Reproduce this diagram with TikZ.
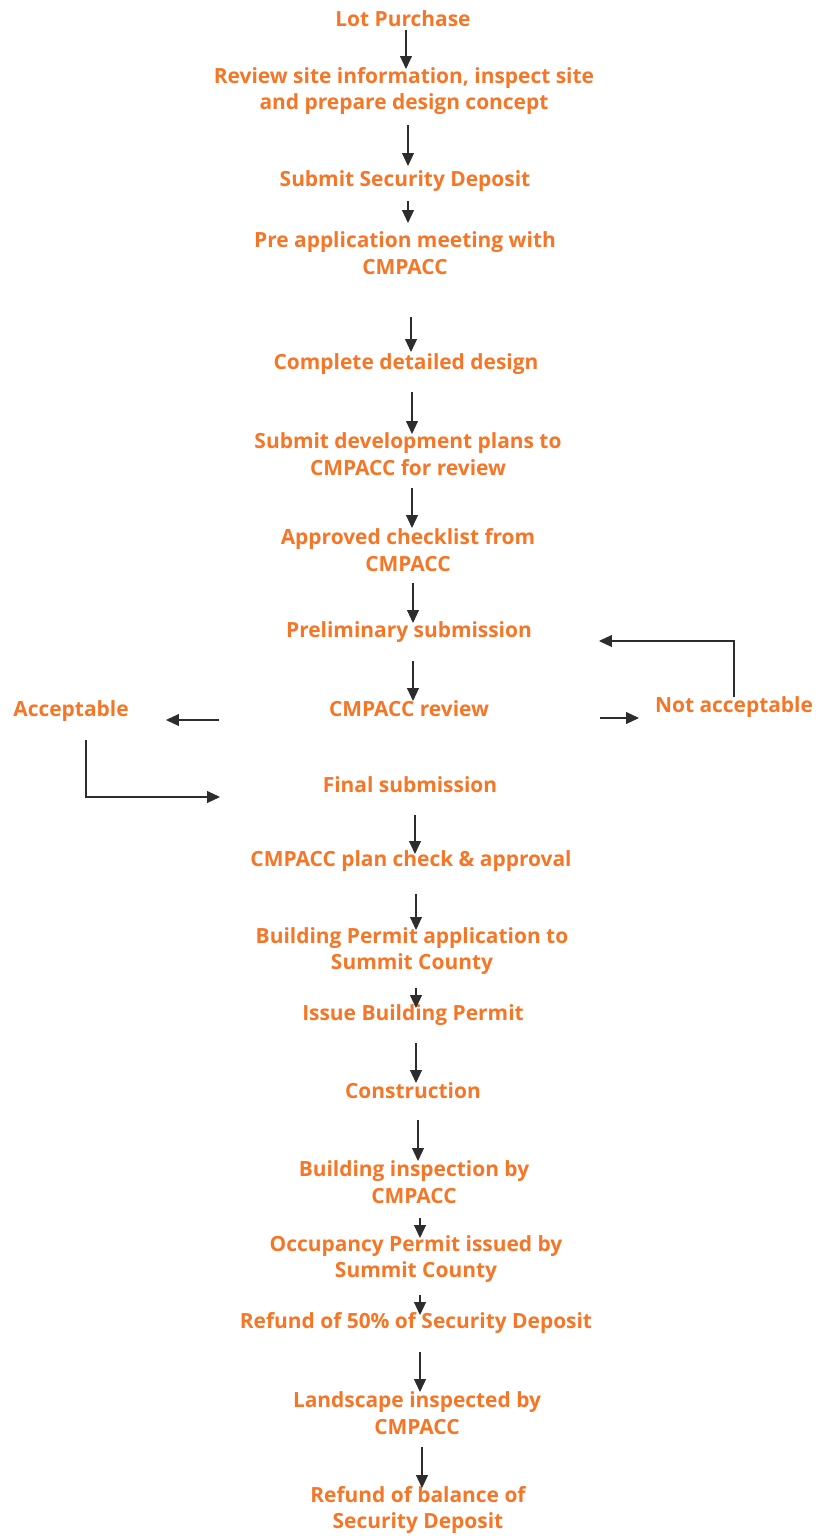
\documentclass[tikz,border=0pt]{standalone}
\usepackage{fontspec}
\setmainfont{Open Sans}
\usetikzlibrary{arrows.meta}
\definecolor{txt}{RGB}{245,118,38}
\definecolor{ln}{RGB}{45,45,45}
\tikzset{
  lbl/.style={text=txt,font=\bfseries\fontsize{21}{26.5}\selectfont,align=center,inner sep=0pt},
  arr/.style={draw=ln,line width=1.1pt,-{Triangle[length=13pt,width=12pt]}}
}
\begin{document}
\begin{tikzpicture}[x=1bp,y=-1bp]
\useasboundingbox (0,0) rectangle (817,1536);
\node[lbl] (n1) at (403,19) {Lot Purchase};
\node[lbl] (n2) at (404,91) {Review site information, inspect site\\and prepare design concept};
\node[lbl] (n3) at (405,181) {Submit Security Deposit};
\node[lbl] (n4) at (405,253) {Pre application meeting with\\CMPACC};
\node[lbl] (n5) at (406,364) {Complete detailed design};
\node[lbl] (n6) at (408,454) {Submit development plans to\\CMPACC for review};
\node[lbl] (n7) at (408,550) {Approved checklist from\\CMPACC};
\node[lbl] (n8) at (409,632) {Preliminary submission};
\node[lbl] (n9) at (409,709) {CMPACC review};
\node[lbl] (n10) at (71,711) {Acceptable};
\node[lbl] (n11) at (734,707) {Not acceptable};
\node[lbl] (n12) at (410,785) {Final submission};
\node[lbl] (n13) at (411,861) {CMPACC plan check \& approval};
\node[lbl] (n14) at (412,951) {Building Permit application to\\Summit County};
\node[lbl] (n15) at (413,1015) {Issue Building Permit};
\node[lbl] (n16) at (413,1091) {Construction};
\node[lbl] (n17) at (414,1182) {Building inspection by\\CMPACC};
\node[lbl] (n18) at (416,1259) {Occupancy Permit issued by\\Summit County};
\node[lbl] (n19) at (416,1323) {Refund of 50\% of Security Deposit};
\node[lbl] (n20) at (417,1413) {Landscape inspected by\\CMPACC};
\node[lbl] (n21) at (418,1510) {Refund of balance of\\Security Deposit};
% vertical connectors
\coordinate (a1s) at (406,30);   \coordinate (a1e) at (406,69);
\coordinate (a2s) at (408,125);  \coordinate (a2e) at (408,166);
\coordinate (a3s) at (408,201);  \coordinate (a3e) at (408,223);
\coordinate (a4s) at (411,317);  \coordinate (a4e) at (411,352);
\coordinate (a5s) at (412,392);  \coordinate (a5e) at (412,434);
\coordinate (a6s) at (412,488);  \coordinate (a6e) at (412,528);
\coordinate (a7s) at (413,583);  \coordinate (a7e) at (413,623);
\coordinate (a8s) at (413,661);  \coordinate (a8e) at (413,701);
\coordinate (a9s) at (415,815);  \coordinate (a9e) at (415,854);
\coordinate (a10s) at (416,894); \coordinate (a10e) at (416,930);
\coordinate (a11s) at (416,988); \coordinate (a11e) at (416,1008);
\coordinate (a12s) at (416,1043); \coordinate (a12e) at (416,1083);
\coordinate (a13s) at (418,1120); \coordinate (a13e) at (418,1161);
\coordinate (a14s) at (420,1218); \coordinate (a14e) at (420,1238);
\coordinate (a15s) at (420,1295); \coordinate (a15e) at (420,1315);
\coordinate (a16s) at (420,1352); \coordinate (a16e) at (420,1392);
\coordinate (a17s) at (422,1447); \coordinate (a17e) at (422,1488);
\foreach \i in {1,...,17} {\draw[arr] (a\i s) -- (a\i e);}
% side connectors
\coordinate (l1s) at (219,720); \coordinate (l1e) at (166,720);
\coordinate (r1s) at (600,718); \coordinate (r1e) at (639,718);
\draw[arr] (l1s) -- (l1e);
\draw[arr] (r1s) -- (r1e);
\coordinate (accd) at (86,740); \coordinate (accb) at (86,797); \coordinate (fin) at (220,797);
\draw[arr] (accd) -- (accb) -- (fin);
\coordinate (nad) at (734,697); \coordinate (nat) at (734,641); \coordinate (pre) at (599,641);
\draw[arr] (nad) -- (nat) -- (pre);
\end{tikzpicture}
\end{document}
